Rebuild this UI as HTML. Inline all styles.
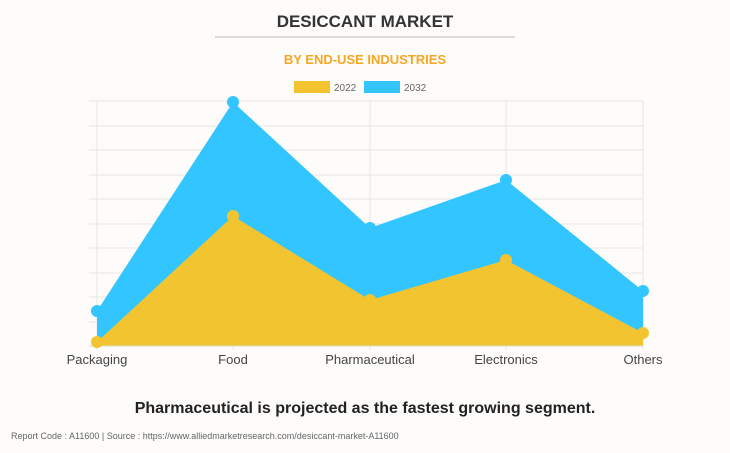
<!DOCTYPE html>
<html><head><style>
body{margin:0;background:#fdfcfb;font-family:"Liberation Sans",sans-serif;}
.wrap{position:relative;width:730px;height:453px;overflow:hidden;background:#fdfcfb;}
</style></head><body><div class="wrap">
<svg width="730" height="453" xmlns="http://www.w3.org/2000/svg" font-family="Liberation Sans, sans-serif">
<rect x="0" y="0" width="730" height="453" fill="#fdfcfb"/>
<text x="365" y="27" text-anchor="middle" font-size="17" font-weight="bold" fill="#333">DESICCANT MARKET</text>
<line x1="215" y1="37" x2="515" y2="37" stroke="#bbb" stroke-width="1"/>
<text x="365" y="64" text-anchor="middle" font-size="13" font-weight="bold" fill="#f5a623">BY END-USE INDUSTRIES</text>
<rect x="294" y="81" width="36" height="12" fill="#f4c430"/>
<text x="334" y="91" font-size="10" fill="#666">2022</text>
<rect x="364" y="81" width="36" height="12" fill="#33c5ff"/>
<text x="404" y="91" font-size="10" fill="#666">2032</text>
<g stroke="#e6e6e6" stroke-width="1">
<line x1="89" y1="101" x2="643" y2="101"/><line x1="89" y1="126" x2="643" y2="126"/>
<line x1="89" y1="150" x2="643" y2="150"/><line x1="89" y1="175" x2="643" y2="175"/>
<line x1="89" y1="199" x2="643" y2="199"/><line x1="89" y1="224" x2="643" y2="224"/>
<line x1="89" y1="248" x2="643" y2="248"/><line x1="89" y1="273" x2="643" y2="273"/>
<line x1="89" y1="297" x2="643" y2="297"/><line x1="89" y1="322" x2="643" y2="322"/>
<line x1="97" y1="101" x2="97" y2="350"/><line x1="233" y1="101" x2="233" y2="350"/>
<line x1="370" y1="101" x2="370" y2="350"/><line x1="506" y1="101" x2="506" y2="350"/>
<line x1="643" y1="101" x2="643" y2="350"/>
</g>
<polygon points="97,346 97,311 233,102 370,228 506,180 643,291 643,346" fill="#33c5ff"/>
<polygon points="97,346 97,342 233,216 370,300 506,260 643,333 643,346" fill="#f2c530"/>
<line x1="89" y1="346" x2="643" y2="346" stroke="#d8e0c8" stroke-width="1"/>
<g fill="#33c5ff"><circle cx="97" cy="311" r="6"/><circle cx="233" cy="102" r="6"/><circle cx="370" cy="228" r="6"/><circle cx="506" cy="180" r="6"/><circle cx="643" cy="291" r="6"/></g>
<g fill="#f2c530"><circle cx="97" cy="342" r="6"/><circle cx="233" cy="216" r="6"/><circle cx="370" cy="300" r="6"/><circle cx="506" cy="260" r="6"/><circle cx="643" cy="333" r="6"/></g>
<g font-size="13" fill="#444" text-anchor="middle">
<text x="97" y="364">Packaging</text><text x="233" y="364">Food</text>
<text x="370" y="364">Pharmaceutical</text><text x="506" y="364">Electronics</text>
<text x="643" y="364">Others</text>
</g>
<text x="365" y="413" text-anchor="middle" font-size="16" font-weight="bold" fill="#222">Pharmaceutical is projected as the fastest growing segment.</text>
<text x="11" y="439" font-size="9" fill="#666">Report Code : A11600  |  Source : https://www.alliedmarketresearch.com/desiccant-market-A11600</text>
</svg>
</div></body></html>
